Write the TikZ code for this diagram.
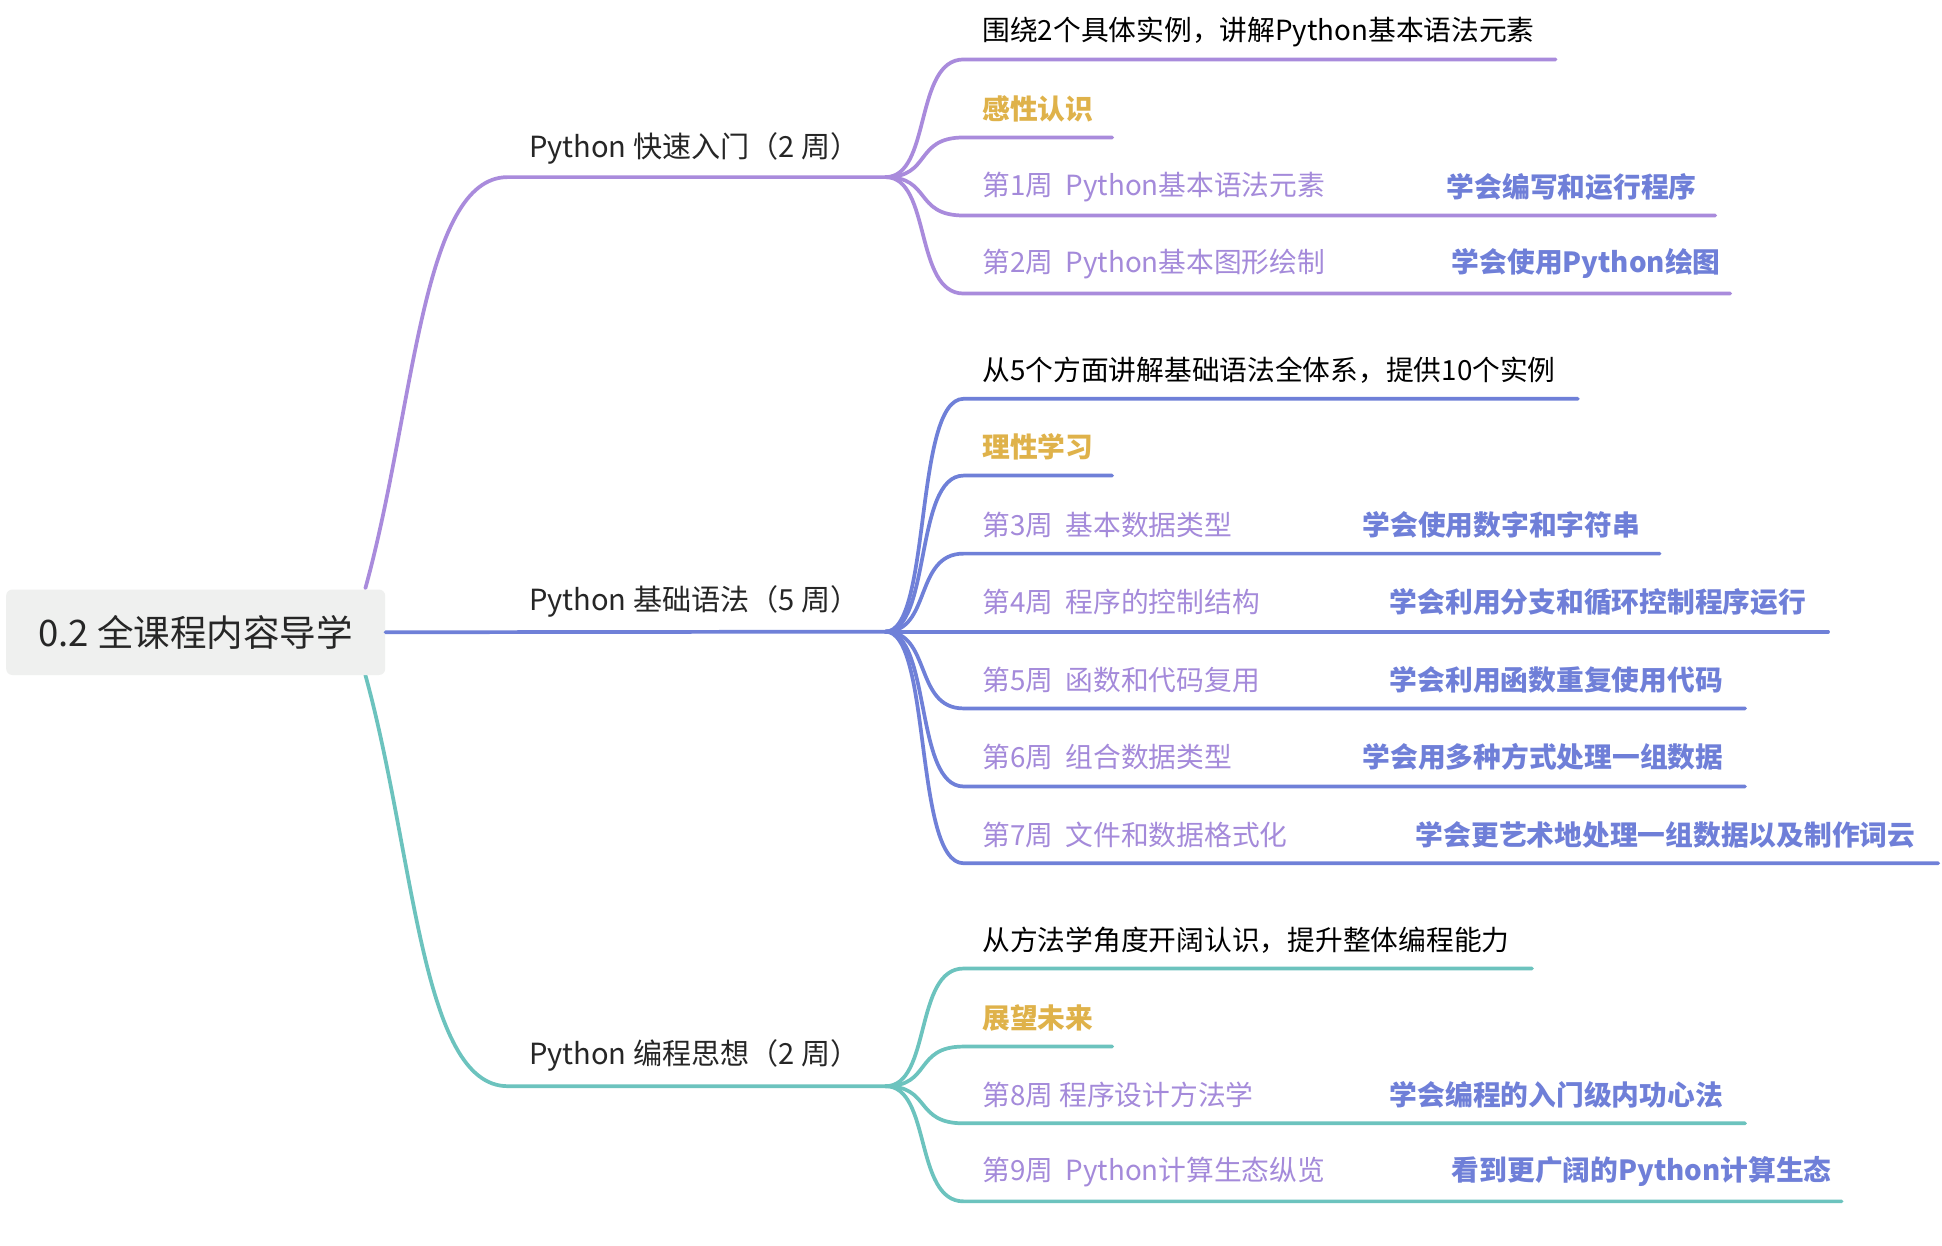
\documentclass[tikz,border=0pt]{standalone}
\usepackage{fontspec}
\setmainfont{Noto Sans CJK SC}
\usetikzlibrary{calc}
\definecolor{cpur}{HTML}{A98BDC}
\definecolor{cblu}{HTML}{6F80D8}
\definecolor{ctea}{HTML}{6CC3BE}
\definecolor{cyel}{HTML}{DFB24A}
\definecolor{cwk}{HTML}{A48ADA}
\definecolor{cgoal}{HTML}{6F7FD8}
\definecolor{cbox}{HTML}{EFF0EF}
\tikzset{
 ln/.style={line width=3pt,line cap=round},
 txt/.style={anchor=west,inner sep=0pt,font=\fontsize{22.4}{24}\selectfont},
 wk/.style={txt,text=cwk},
 goal/.style={txt,text=cgoal,font=\fontsize{22.4}{24}\selectfont\bfseries},
 yel/.style={txt,text=cyel,font=\fontsize{22.4}{24}\selectfont\bfseries},
 lvl/.style={txt,text=black!85,font=\fontsize{23.5}{26}\selectfont},
}
\newcommand\brch[5]{% hub, hubY, lineY, endX, color
 \coordinate (e#3) at (#4,#3);
 \draw[ln,#5] (#1) .. controls (752,#2) and (738,#3) .. (778,#3) -- (e#3);}
\begin{document}
\begin{tikzpicture}[x=1pt,y=-1pt]
\useasboundingbox[fill=white] (0,0) rectangle (1568,1006);
% hubs
\coordinate (h1) at (715,143);
\coordinate (h2) at (715,510);
\coordinate (h3) at (715,877);
% main branches
\draw[ln,cpur] (295,475) .. controls (335,330) and (340,143) .. (410,143) -- (h1);
\draw[ln,ctea] (295,545) .. controls (335,690) and (340,877) .. (410,877) -- (h3);
\node[fill=cbox,rounded corners=5pt,minimum width=306pt,minimum height=69pt,inner sep=0pt,font=\fontsize{29.5}{32}\selectfont,text=black!85] (root) at (158,510.5) {0.2 全课程内容导学};
\draw[ln,cblu] (root.east) -- (h2);
\node[lvl] (l1) at (427,120) {Python 快速入门（2 周）};
\node[lvl] (l2) at (427,486) {Python 基础语法（5 周）};
\node[lvl] (l3) at (427,852) {Python 编程思想（2 周）};
% group 1
\brch{h1}{143}{48}{1256}{cpur}
\brch{h1}{143}{111}{898}{cpur}
\brch{h1}{143}{174}{1385}{cpur}
\brch{h1}{143}{237}{1397}{cpur}
\node[txt] (a1) at (793,26) {围绕2个具体实例，讲解Python基本语法元素};
\node[yel] (a2) at (793,88) {感性认识};
\node[wk] (a3) at (793,151) {第1周\ \ Python基本语法元素};
\node[goal] (g1) at (1168,151) {学会编写和运行程序};
\node[wk] (a4) at (793,213) {第2周\ \ Python基本图形绘制};
\node[goal] (g2) at (1172,213) {学会使用Python绘图};
% group 2
\brch{h2}{510}{322}{1274}{cblu}
\brch{h2}{510}{384}{898}{cblu}
\brch{h2}{510}{447}{1340}{cblu}
\brch{h2}{510}{510}{1476}{cblu}
\brch{h2}{510}{572}{1409}{cblu}
\brch{h2}{510}{635}{1409}{cblu}
\brch{h2}{510}{697}{1565}{cblu}
\node[txt] (b1) at (793,299) {从5个方面讲解基础语法全体系，提供10个实例};
\node[yel] (b2) at (793,361) {理性学习};
\node[wk] (b3) at (793,424) {第3周\ \ 基本数据类型};
\node[goal] (g3) at (1100,424) {学会使用数字和字符串};
\node[wk] (b4) at (793,486) {第4周\ \ 程序的控制结构};
\node[goal] (g4) at (1122,486) {学会利用分支和循环控制程序运行};
\node[wk] (b5) at (793,549) {第5周\ \ 函数和代码复用};
\node[goal] (g5) at (1122,549) {学会利用函数重复使用代码};
\node[wk] (b6) at (793,611) {第6周\ \ 组合数据类型};
\node[goal] (g6) at (1100,611) {学会用多种方式处理一组数据};
\node[wk] (b7) at (793,674) {第7周\ \ 文件和数据格式化};
\node[goal] (g7) at (1143,674) {学会更艺术地处理一组数据以及制作词云};
% group 3
\brch{h3}{877}{782}{1237}{ctea}
\brch{h3}{877}{845}{898}{ctea}
\brch{h3}{877}{907}{1409}{ctea}
\brch{h3}{877}{970}{1487}{ctea}
\node[txt] (c1) at (793,759) {从方法学角度开阔认识，提升整体编程能力};
\node[yel] (c2) at (793,822) {展望未来};
\node[wk] (c3) at (793,884) {第8周\ 程序设计方法学};
\node[goal] (g8) at (1122,884) {学会编程的入门级内功心法};
\node[wk] (c4) at (793,946) {第9周\ \ Python计算生态纵览};
\node[goal] (g9) at (1172,946) {看到更广阔的Python计算生态};
\end{tikzpicture}
\end{document}
